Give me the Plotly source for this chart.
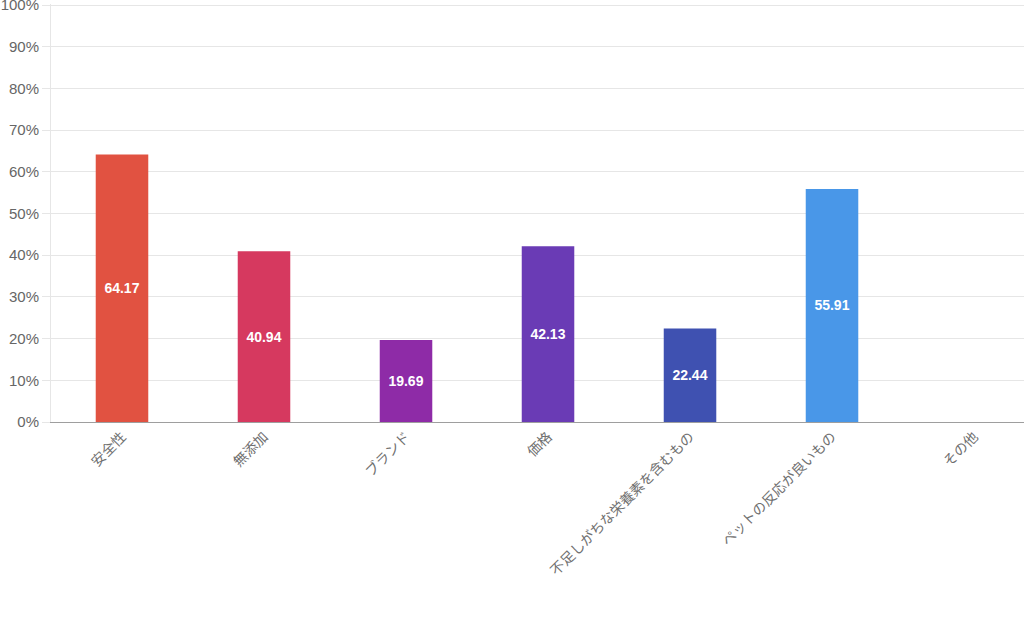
import plotly.graph_objects as go

categories = ["安全性", "無添加", "ブランド", "価格", "不足しがちな栄養素を含むもの", "ペットの反応が良いもの", "その他"]
values = [64.17, 40.94, 19.69, 42.13, 22.44, 55.91, 0]
colors = ["#E15241", "#D6395F", "#8E2BA7", "#6A3BB5", "#3F51B1", "#4997E8", "#9E9E9E"]
y_ticks = [0, 10, 20, 30, 40, 50, 60, 70, 80, 90, 100]
y_tick_labels = ["0%", "10%", "20%", "30%", "40%", "50%", "60%", "70%", "80%", "90%", "100%"]

labels = [f"{v:.2f}" if v > 0 else "" for v in values]

fig = go.Figure(go.Bar(
    x=categories, y=values, marker_color=colors, marker_line_width=0,
    width=0.37, text=labels, textposition="inside", insidetextanchor="middle",
    textangle=0,
    textfont=dict(color="white", size=14, family="Liberation Sans, Arial, sans-serif", weight="bold"),
    hoverinfo="skip",
))

fig.update_layout(
    width=1024, height=618,
    margin=dict(l=51, r=0, t=4, b=196, autoexpand=False),
    paper_bgcolor="white", plot_bgcolor="white",
    showlegend=False,
    font=dict(family="Noto Sans CJK JP, sans-serif", color="#666666", size=14),
)
fig.update_xaxes(
    range=[-0.5, 6.352], tickangle=-45, showgrid=False, automargin=False,
    showline=True, linecolor="#9e9e9e", linewidth=1,
    tickfont=dict(size=14, color="#707070", family="Noto Sans CJK JP, sans-serif"),
    ticks="", fixedrange=True,
)
fig.update_yaxes(
    range=[0, 100.25], tickmode="array", tickvals=y_ticks, ticktext=y_tick_labels,
    showgrid=True, gridcolor="#e6e6e6",
    zeroline=False, showline=True, linecolor="#e6e6e6", automargin=False,
    ticklabeloverflow="allow",
    tickfont=dict(size=15, color="#666666", family="Liberation Sans, Arial, sans-serif"),
    ticks="outside", ticklen=8, tickcolor="#e6e6e6", fixedrange=True,
)

fig.write_html("out.html", config={"displayModeBar": False},
               post_script="document.body.style.margin='0';document.body.style.overflow='hidden';")
